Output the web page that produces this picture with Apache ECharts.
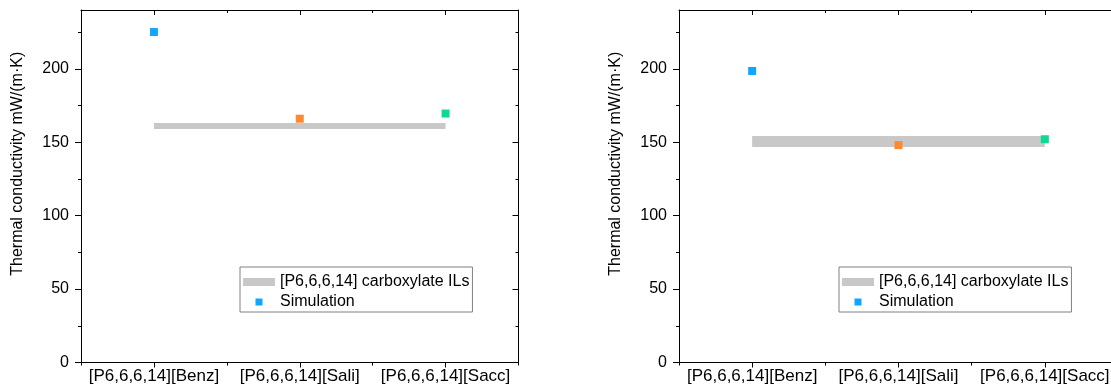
<!DOCTYPE html>
<html>
<head>
<meta charset="utf-8">
<script src="https://cdn.jsdelivr.net/npm/echarts@6/dist/echarts.min.js"></script>
<style>
html,body{margin:0;padding:0;background:#fff;}
#chart{width:1111px;height:389px;}
</style>
</head>
<body>
<div id="chart"></div>
<script>
// ---- data ----
const categories = ['[P6,6,6,14][Benz]', '[P6,6,6,14][Sali]', '[P6,6,6,14][Sacc]'];
const leftIL = [161, 161, 161];
const leftSim = [225, 166, 169.5];
const rightIL = [150.5, 150.5, 150.5];
const rightSim = [198.5, 148, 152];
const yTicks = [0, 50, 100, 150, 200];
const yMinorTicks = [25, 75, 125, 175, 225];
const yMin = 0;
const yMax = 240;
const ilName = '[P6,6,6,14] carboxylate ILs';
const simName = 'Simulation';
const yTitle = 'Thermal conductivity mW/(m\u00B7K)';

// ---- styles ----
const FONT = '"Liberation Sans", Arial, sans-serif';
const AX = '#000';
const pointColors = ['#12a5ff', '#fd8a2e', '#0fd893'];
const bandColor = '#c8c8c8';
const bandWidths = [6, 11];
const grids = [
  { left: 81, top: 10, width: 437.5, height: 352.5, outerBoundsMode: 'none', containLabel: false },
  { left: 679, top: 10, width: 439, height: 352.5, outerBoundsMode: 'none', containLabel: false }
];
const legendPos = [{ left: 240, top: 267 }, { left: 839, top: 267 }];

const xAxes = [], yAxes = [], series = [], legends = [];
const squareIcon = 'path://M0,0M32,8M12.5,0.5h7v7h-7z';

grids.forEach((g, gi) => {
  const xBase = xAxes.length, yBase = yAxes.length;
  const lineStyle = { color: AX, width: 1 };
  // x axes
  xAxes.push({
    type: 'category', gridIndex: gi, data: categories, position: 'bottom', boundaryGap: true,
    axisLine: { show: true, onZero: false, lineStyle },
    axisTick: { show: true, alignWithLabel: true, length: 5, inside: false, lineStyle },
    axisLabel: { show: true, interval: 0, fontSize: 17, color: '#000', fontFamily: FONT, margin: 5, hideOverlap: false },
    splitLine: { show: false }
  });
  xAxes.push({
    type: 'category', gridIndex: gi, data: categories, position: 'bottom', boundaryGap: true,
    axisLine: { show: false, onZero: false },
    axisTick: { show: true, length: 3, inside: false, lineStyle },
    axisLabel: { show: false }, splitLine: { show: false }
  });
  xAxes.push({
    type: 'category', gridIndex: gi, data: categories, position: 'top', boundaryGap: true,
    axisLine: { show: true, onZero: false, lineStyle },
    axisTick: { show: true, alignWithLabel: true, length: 5, inside: true, lineStyle },
    axisLabel: { show: false }, splitLine: { show: false }
  });
  xAxes.push({
    type: 'category', gridIndex: gi, data: categories, position: 'top', boundaryGap: true,
    axisLine: { show: false, onZero: false },
    axisTick: { show: true, length: 3, inside: true, lineStyle },
    axisLabel: { show: false }, splitLine: { show: false }
  });
  // y axes
  yAxes.push({
    type: 'value', gridIndex: gi, position: 'left', min: yMin, max: yMax, interval: 50,
    name: yTitle, nameLocation: 'middle', nameGap: 55,
    nameTextStyle: { fontSize: 16, color: '#000', fontFamily: FONT, padding: [0, 0, 0, 45] },
    axisLine: { show: true, onZero: false, lineStyle },
    axisTick: { show: true, length: 6, inside: false, lineStyle, customValues: yTicks },
    axisLabel: { show: true, fontSize: 16, color: '#000', fontFamily: FONT, margin: 12, customValues: yTicks },
    splitLine: { show: false }
  });
  yAxes.push({
    type: 'value', gridIndex: gi, position: 'left', min: yMin, max: yMax, interval: 25,
    axisLine: { show: false, onZero: false },
    axisTick: { show: true, length: 3, inside: false, lineStyle, customValues: yMinorTicks },
    axisLabel: { show: false }, splitLine: { show: false }
  });
  yAxes.push({
    type: 'value', gridIndex: gi, position: 'right', min: yMin, max: yMax, interval: 50,
    axisLine: { show: true, onZero: false, lineStyle },
    axisTick: { show: true, length: 6, inside: true, lineStyle, customValues: yTicks },
    axisLabel: { show: false }, splitLine: { show: false }
  });
  yAxes.push({
    type: 'value', gridIndex: gi, position: 'right', min: yMin, max: yMax, interval: 25,
    axisLine: { show: false, onZero: false },
    axisTick: { show: true, length: 3, inside: true, lineStyle, customValues: yMinorTicks },
    axisLabel: { show: false }, splitLine: { show: false }
  });

  const il = gi === 0 ? leftIL : rightIL;
  const sim = gi === 0 ? leftSim : rightSim;
  series.push({
    type: 'line', name: ilName, xAxisIndex: xBase, yAxisIndex: yBase,
    data: il, symbol: 'none', silent: true, z: 2,
    itemStyle: { color: bandColor },
    lineStyle: { color: bandColor, width: bandWidths[gi], cap: 'butt' }
  });
  series.push({
    type: 'scatter', name: simName, xAxisIndex: xBase, yAxisIndex: yBase,
    symbol: 'rect', symbolSize: 8, silent: true, z: 3,
    itemStyle: { color: pointColors[0], opacity: 1 },
    data: sim.map((v, i) => ({ value: v, itemStyle: { color: pointColors[i], opacity: 1 } }))
  });

  legends.push({
    left: legendPos[gi].left, top: legendPos[gi].top, orient: 'vertical',
    padding: [7, 3, 2, 3], itemGap: 4, itemWidth: 32, itemHeight: 8,
    borderColor: '#808080', borderWidth: 1, borderRadius: 0,
    selectedMode: false,
    textStyle: { fontSize: 16, color: '#000', fontFamily: FONT },
    data: [
      { name: ilName, icon: 'rect', itemStyle: { color: bandColor, borderWidth: 0, opacity: 1 } },
      { name: simName, icon: squareIcon, itemStyle: { color: pointColors[0], borderWidth: 0, opacity: 1 } }
    ]
  });
});

const chart = echarts.init(document.getElementById('chart'), null, { renderer: 'canvas' });
chart.setOption({
  animation: false,
  backgroundColor: '#fff',
  textStyle: { fontFamily: FONT },
  grid: grids,
  xAxis: xAxes,
  yAxis: yAxes,
  legend: legends,
  series: series
});
</script>
</body>
</html>
